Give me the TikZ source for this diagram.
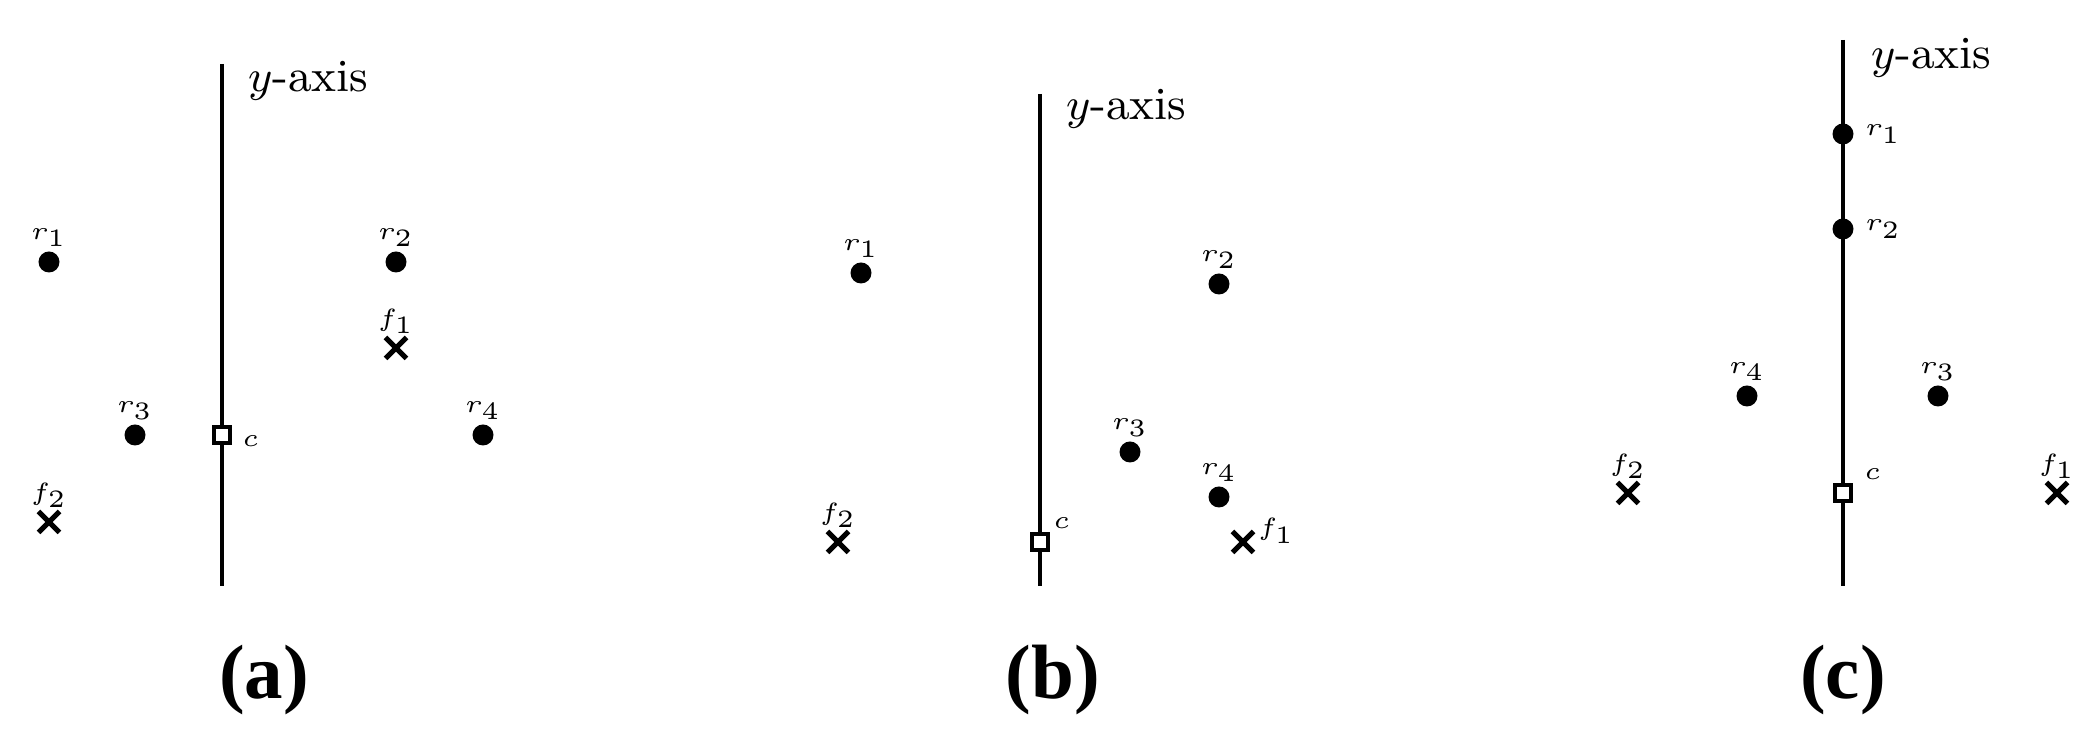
\documentclass[tikz,border=0pt]{standalone}
\usepackage{fontspec}
\newfontfamily\capfont{Liberation Serif}
\DeclareMathSizes{5.4}{5.4}{5.4}{5.4}
\usetikzlibrary{shapes.misc,positioning}
\begin{document}
\begin{tikzpicture}[x=0.2pt,y=-0.2pt,
  robot/.style={circle,fill=black,inner sep=0pt,minimum size=4.2pt},
  fire/.style={cross out,draw,line width=1pt,inner sep=0pt,minimum size=3.2pt},
  ctr/.style={rectangle,draw,fill=white,line width=0.8pt,inner sep=0pt,minimum size=3.1pt},
  axisline/.style={line width=0.8pt},
  lbl/.style={font=\fontsize{5.4}{6}\selectfont,inner sep=0.5pt},
  axlbl/.style={font=\fontsize{9.2}{11}\selectfont,inner sep=0pt,anchor=north west},
  captxt/.style={font=\fontsize{15.4}{17}\capfont\bfseries,inner sep=0pt}]
\useasboundingbox (0,0) rectangle (2099,755);

% ---------- panel (a)
\coordinate (atop) at (222,64);
\coordinate (abot) at (222,586);
\draw[axisline] (atop) -- (abot);
\node[axlbl] (aylab) at (247,60) {$y$-axis};
\node[robot] (ar1) at (49,262) {};
\node[robot] (ar2) at (396,262) {};
\node[fire]  (af1) at (396,348) {};
\node[robot] (ar3) at (135,435) {};
\node[ctr]   (ac)  at (222,435) {};
\node[robot] (ar4) at (483,435) {};
\node[fire]  (af2) at (49,522) {};
\node[lbl,above=0pt of ar1] (ar1l) {$r_1$};
\node[lbl,above=0pt of ar2] (ar2l) {$r_2$};
\node[lbl,above=0pt of ar3] (ar3l) {$r_3$};
\node[lbl,above=0pt of ar4] (ar4l) {$r_4$};
\node[lbl,above=0pt of af1] (af1l) {$f_1$};
\node[lbl,above=0pt of af2] (af2l) {$f_2$};
\node[lbl,anchor=west] (acl) at ([shift={(7,6)}]ac.east) {$c$};
\node[captxt] (acap) at (264,680) {(a)};

% ---------- panel (b)
\coordinate (btop) at (1040,94);
\coordinate (bbot) at (1040,586);
\draw[axisline] (btop) -- (bbot);
\node[axlbl] (bylab) at (1065,88) {$y$-axis};
\node[robot] (br1) at (861,273) {};
\node[robot] (br2) at (1219,284) {};
\node[robot] (br3) at (1130,452) {};
\node[robot] (br4) at (1219,497) {};
\node[ctr]   (bc)  at (1040,542) {};
\node[fire]  (bf2) at (838,542) {};
\node[fire]  (bf1) at (1243,542) {};
\node[lbl,above=0pt of br1] (br1l) {$r_1$};
\node[lbl,above=0pt of br2] (br2l) {$r_2$};
\node[lbl,above=0pt of br3] (br3l) {$r_3$};
\node[lbl,above=0pt of br4] (br4l) {$r_4$};
\node[lbl,above=0pt of bf2] (bf2l) {$f_2$};
\node[lbl,anchor=west] (bf1l) at ([shift={(1,-11)}]bf1.east) {$f_1$};
\node[lbl,above right=0pt of bc] (bcl) {$c$};
\node[captxt] (bcap) at (1053,680) {(b)};

% ---------- panel (c)
\coordinate (ctop) at (1843,40);
\coordinate (cbot) at (1843,586);
\draw[axisline] (ctop) -- (cbot);
\node[axlbl] (cylab) at (1870,37) {$y$-axis};
\node[robot] (cr1) at (1843,134) {};
\node[robot] (cr2) at (1843,229) {};
\node[robot] (cr4) at (1747,396) {};
\node[robot] (cr3) at (1938,396) {};
\node[ctr]   (cc)  at (1843,493) {};
\node[fire]  (cf2) at (1628,493) {};
\node[fire]  (cf1) at (2057,493) {};
\node[lbl,anchor=west] (cr1l) at ([shift={(7,0)}]cr1.east) {$r_1$};
\node[lbl,anchor=west] (cr2l) at ([shift={(7,0)}]cr2.east) {$r_2$};
\node[lbl,above=0pt of cr3] (cr3l) {$r_3$};
\node[lbl,above=0pt of cr4] (cr4l) {$r_4$};
\node[lbl,above=0pt of cf1] (cf1l) {$f_1$};
\node[lbl,above=0pt of cf2] (cf2l) {$f_2$};
\node[lbl,anchor=south west] (ccl) at ([shift={(8,0)}]cc.north east) {$c$};
\node[captxt] (ccap) at (1843,680) {(c)};
\end{tikzpicture}
\end{document}
